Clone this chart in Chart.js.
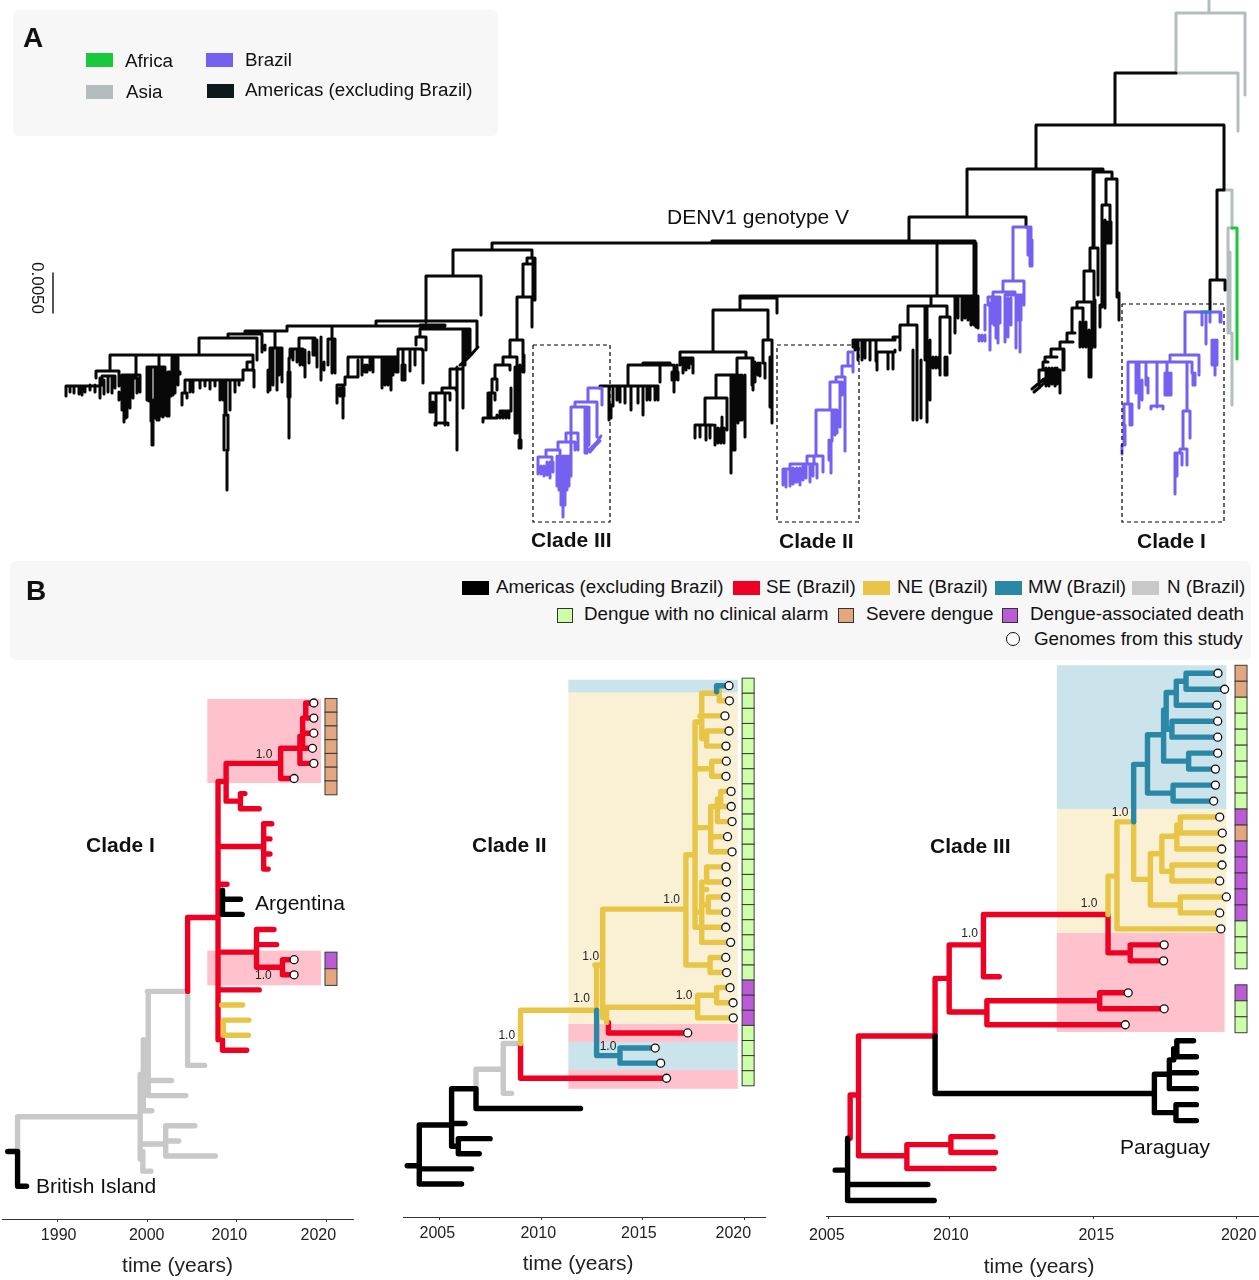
<!DOCTYPE html>
<html>
<head>
<meta charset="utf-8">
<title>DENV1 genotype V</title>
<script src="https://cdn.jsdelivr.net/npm/chart.js@4/dist/chart.umd.min.js"></script>
<style>
html, body { margin: 0; padding: 0; background: #fff; }
#page { position: relative; width: 1259px; height: 1280px; overflow: hidden; font-family: "Liberation Sans", Arial, sans-serif; color: #111; }
#page canvas { position: absolute; }
.box { position: absolute; background: #f7f7f7; border-radius: 6px; }
.t { position: absolute; white-space: nowrap; font-size: 18.8px; line-height: 22px; }
.big { font-size: 21px; }
.b { font-weight: bold; font-size: 21px; }
.p { font-weight: bold; font-size: 28px; line-height: 30px; }
.sw { position: absolute; width: 27px; height: 14px; }
.sq { position: absolute; width: 14px; height: 13px; border: 1px solid #333; }
</style>
</head>
<body>
<div id="page">
  <div class="box" style="left:13px;top:10px;width:485px;height:126px"></div>
  <div class="box" style="left:10px;top:561px;width:1241px;height:99px"></div>

  <canvas id="treeA" width="1259" height="560" style="left:0;top:0"></canvas>
  <canvas id="cladeI" width="411" height="589" style="left:-28px;top:690px"></canvas>
  <canvas id="cladeII" width="422" height="607" style="left:373px;top:670px"></canvas>
  <canvas id="cladeIII" width="492" height="620" style="left:796px;top:660px"></canvas>

  <div class="t p" style="left:23px;top:23px">A</div>
  <div class="sw" style="left:86px;top:53px;background:#19c93b"></div>
  <div class="t" style="left:125px;top:50px">Africa</div>
  <div class="sw" style="left:86px;top:85px;background:#b4bdbd"></div>
  <div class="t" style="left:126px;top:81px">Asia</div>
  <div class="sw" style="left:206px;top:53px;background:#7561f0"></div>
  <div class="t" style="left:245px;top:49px">Brazil</div>
  <div class="sw" style="left:207px;top:84px;background:#0c1a1c"></div>
  <div class="t" style="left:245px;top:79px">Americas (excluding Brazil)</div>

  <div class="t" style="left:37px;top:288px;transform:translate(-50%,-50%) rotate(90deg);font-size:17px">0.0050</div>
  <div class="t big" style="left:667px;top:206px">DENV1 genotype V</div>
  <div class="t b" style="left:531px;top:529px">Clade III</div>
  <div class="t b" style="left:779px;top:530px">Clade II</div>
  <div class="t b" style="left:1137px;top:530px">Clade I</div>

  <div class="t p" style="left:26px;top:576px">B</div>
  <div class="sw" style="left:462px;top:581px;background:#000"></div>
  <div class="t" style="left:496px;top:576px">Americas (excluding Brazil)</div>
  <div class="sw" style="left:733px;top:581px;background:#ee0022"></div>
  <div class="t" style="left:766px;top:576px">SE (Brazil)</div>
  <div class="sw" style="left:863px;top:581px;background:#e8c547"></div>
  <div class="t" style="left:897px;top:576px">NE (Brazil)</div>
  <div class="sw" style="left:995px;top:581px;background:#2a87a5"></div>
  <div class="t" style="left:1028px;top:576px">MW (Brazil)</div>
  <div class="sw" style="left:1132px;top:581px;background:#c8c8c8"></div>
  <div class="t" style="left:1167px;top:576px">N (Brazil)</div>
  <div class="sq" style="left:557px;top:608px;background:#ccffa8"></div>
  <div class="t" style="left:584px;top:603px">Dengue with no clinical alarm</div>
  <div class="sq" style="left:838px;top:608px;background:#e2a77e"></div>
  <div class="t" style="left:866px;top:603px">Severe dengue</div>
  <div class="sq" style="left:1002px;top:608px;background:#bc5bd6"></div>
  <div class="t" style="left:1030px;top:603px">Dengue-associated death</div>
  <div style="position:absolute;left:1006px;top:632px;width:12px;height:12px;border:1.3px solid #111;border-radius:50%;background:#fff"></div>
  <div class="t" style="left:1034px;top:628px">Genomes from this study</div>

  <div class="t b" style="left:86px;top:834px">Clade I</div>
  <div class="t b" style="left:472px;top:834px">Clade II</div>
  <div class="t b" style="left:930px;top:835px">Clade III</div>
  <div class="t big" style="left:255px;top:892px">Argentina</div>
  <div class="t big" style="left:36px;top:1175px">British Island</div>
  <div class="t big" style="left:1120px;top:1136px">Paraguay</div>
</div>

<script>
// Panel A: x = tip position along the tree, y = depth (39 depth units = 0.0050 subs/site)
// node = [depth, x left, depth left end, x right, depth right end]
const treeABlackNodes = [
    [243,492,250,975,296],[241,712,243,975,296],[217,909,241,1026,227],[169,967,217,1103,172],
    [125,1036,169,1224,190],[73,1115,125,1176,73],[190,1217,280,1224,190],[280,1210,311,1225,290],
    [250,453,276,532,258],[276,426,322,481,315],[321,376,326,477,347],[326,287,331,445,326],
    [325,420,326,445,326],[331,245,334,287,326],[334,228,338,262,350],[338,199,355,257,360],
    [355,110,371,253,363],[371,96,378,119,386],[376,102,385,115,388],[386,66,396,100,392],
    [375,122,378,140,392],[378,122,410,137,393],[367,147,400,165,415],[357,172,372,178,385],
    [372,168,392,180,374],[380,185,393,243,370],[370,243,380,254,387],[362,247,370,253,369],
    [393,182,405,187,398],[348,270,390,282,382],[349,290,358,303,365],[338,299,349,315,355],
    [339,328,365,335,373],[337,416,345,426,350],[329,420,337,470,355],[349,398,357,422,350],
    [357,348,377,398,372],[377,345,385,358,360],[385,337,403,343,418],[369,450,388,463,369],
    [388,442,393,456,390],[393,430,412,450,400],[423,435,425,448,425],
    [297,517,340,533,300],[264,523,297,533,258],[258,527,262,533,300],[340,510,357,523,355],
    [357,503,365,517,367],[365,495,379,510,370],[379,492,393,497,390],[393,488,410,495,400],
    [418,483,422,497,415],[411,500,418,511,388],
    [386,600,388,658,400],[365,628,386,672,365],[363,643,365,670,365],[352,680,365,746,358],
    [358,680,360,693,373],[310,713,352,768,340],[298,740,309,777,313],[296,740,298,975,296],
    [358,737,375,753,390],[375,716,398,737,375],[398,705,425,727,430],[425,695,438,713,425],
    [340,763,363,772,358],[340,853,347,895,338],[337,893,338,900,327],[352,877,370,895,350],
    [325,900,337,917,420],[306,908,325,947,317],[317,940,375,950,353],
    [172,1093,247,1112,179],[179,1106,205,1117,297],[205,1102,215,1110,240],[248,1090,271,1098,295],
    [271,1084,302,1094,300],[302,1077,308,1092,308],[308,1072,333,1083,322],[333,1067,342,1075,333],
    [342,1060,349,1073,342],[349,1051,357,1064,370],[357,1045,362,1057,357],[362,1043,370,1048,362],
    [370,1039,385,1060,393]
];
const treeABlackPaths = [
    [460,365,470,356,478,347],[464,362,472,354],[1032,389,1038,384,1044,379],[1034,392,1040,387,1046,381]
];
// drop = [x, depth top, depth bottom]
const treeABlackDrops = [
    [70,386,392],[74,386,393],[79,386,394],[82,386,395],[85,386,392],[90,385,390],[95,385,392],[100,378,398],
    [104,380,394],[108,378,392],[112,378,393],[119,392,400],[124,380,422],[126,410,418],[127,378,417],
    [130,378,408],[133,378,398],[136,355,375],[149,368,401],[151,368,421],[152,400,445],[153,400,445],
    [155,368,418],[157,368,420],[159,355,420],[161,368,416],[163,368,417],[167,390,416],[169,392,416],
    [171,372,396],[173,372,395],[175,355,393],[190,380,392],[193,380,392],[200,380,388],[205,380,386],
    [210,380,389],[215,380,386],[220,380,400],[223,380,400],[225,380,415],[226,380,415],[224,415,450],
    [228,415,450],[227,450,490],[230,380,410],[235,380,392],[239,380,385],[262,345,352],[265,345,350],
    [268,370,392],[273,348,385],[275,331,348],[277,350,390],[279,350,375],[288,372,397],[290,372,397],
    [289,358,438],[293,349,360],[297,349,362],[300,349,365],[305,350,377],[309,352,363],[313,340,355],
    [317,340,367],[321,337,380],[324,362,370],[332,326,373],[340,388,396],[342,388,396],[344,388,396],
    [362,357,375],[365,365,372],[367,365,372],[370,357,370],[373,357,372],[382,357,388],[385,357,385],
    [386,357,375],[388,357,385],[391,357,390],[393,357,375],[396,357,372],[403,349,380],[405,365,380],
    [402,365,380],[410,349,371],[415,349,365],[423,350,383],[463,329,408],[465,329,365],[467,329,355],
    [457,367,450],[436,393,425],[445,393,425],[431,402,412],[433,402,412],[488,393,418],[491,393,418],
    [532,297,327],[534,258,300],[535,258,300],[515,367,433],[517,367,433],[520,365,447],[519,440,448],
    [521,440,448],[524,355,372],[523,340,372],[503,411,418],[506,411,418],[509,411,418],
    [609,386,420],[611,405,418],[613,386,406],[617,386,400],[620,386,402],[625,386,403],[631,386,410],
    [638,386,403],[643,386,415],[647,386,400],[650,386,400],[655,386,400],[660,365,382],[672,372,380],
    [675,372,380],[678,372,380],[674,365,392],[677,365,375],[683,360,373],[686,360,370],[689,358,368],
    [692,358,364],[700,425,437],[706,425,440],[710,425,438],[715,425,445],[718,428,443],[721,428,443],
    [724,428,443],[722,417,430],[731,375,473],[733,375,450],[735,375,450],[738,375,423],[740,375,420],
    [742,375,420],[745,375,437],[752,360,385],[755,362,382],[758,363,375],[760,363,376],[765,363,378],
    [770,357,407],[772,357,423],[855,340,350],[858,340,360],[862,340,360],[865,340,358],[870,340,360],
    [876,340,361],[888,352,369],[893,352,369],[900,325,350],
    [937,243,296],[931,296,306],[913,350,420],[921,360,418],[925,306,360],[927,306,422],[930,340,400],
    [933,357,368],[936,357,368],[939,357,368],[945,357,375],[947,357,375],[955,296,333],[958,296,318],
    [962,296,320],[965,296,318],[968,296,320],[971,296,325],[974,243,325],[976,243,327],[978,296,328],
    [1094,169,247],[1117,188,297],[1119,293,320],[1102,215,307],[1105,220,308],[1107,222,243],
    [1109,222,243],[1111,222,243],[1100,305,327],[1095,300,347],[1092,308,348],[1089,330,377],
    [1090,345,377],[1091,345,377],[1080,322,347],[1086,322,347],[1083,322,347],[1063,350,370],
    [1046,368,386],[1049,368,386],[1052,368,384],[1055,368,386],[1057,368,384]
];
const treeAPurpleNodes = [
    [227,1013,281,1031,240],[281,1003,291,1024,305],[292,993,298,1015,295],[297,988,305,1000,300],
    [295,1005,310,1023,300],[312,1185,355,1220,322],[355,1170,362,1199,375],[362,1128,404,1192,373],
    [411,1183,448,1190,438],[449,1180,453,1187,465],[453,1175,494,1182,465],[404,1124,445,1131,425],
    [406,1151,409,1163,409],
    [388,588,402,602,405],[402,575,407,597,437],[407,571,433,587,453],[433,566,442,578,450],
    [442,558,450,575,450],[450,546,457,560,466],[457,538,472,552,466],
    [352,848,365,853,372],[366,842,376,853,372],[377,836,382,845,451],[382,830,408,842,395],
    [410,816,456,837,433],[456,807,463,823,472],[464,790,470,817,478],[469,783,485,795,482]
];
const treeAPurplePaths = [
    [587,452,592,447,597,442,601,436],[590,452,595,446,600,441]
];
const treeAPurpleDrops = [
    [1028,227,255],[1030,227,266],[1032,240,266],[1024,290,305],[1021,295,320],[1018,296,320],[1016,296,348],
    [1020,296,352],[1005,298,342],[1008,298,337],[1011,298,325],[985,305,330],[979,335,341],[982,335,341],
    [985,335,341],[990,303,350],[992,298,323],[994,298,325],[996,298,338],[998,298,343],[1000,298,323],
    [1202,312,325],[1206,312,344],[1210,312,322],[1221,312,322],[1215,340,375],[1212,340,365],[1214,340,365],
    [1217,340,365],[1195,373,385],[1193,373,385],[1136,362,393],[1139,362,408],[1142,380,400],[1146,362,385],
    [1148,378,393],[1157,362,407],[1167,362,395],[1165,373,395],[1169,373,395],[1171,373,395],[1187,362,411],
    [1177,453,476],[1124,425,445],[1122,445,454],[1125,425,445],[1130,404,425],[1132,404,425],
    [538,466,474],[541,466,474],[544,466,476],[547,462,475],[550,462,478],[553,462,472],[557,456,486],
    [559,456,490],[561,456,505],[563,456,517],[565,456,505],[567,456,490],[569,456,486],[571,433,476],
    [585,407,453],[587,407,450],[589,407,445],[814,456,463],
    [845,380,451],[840,382,427],[837,410,433],[835,412,435],[832,410,441],[831,440,473],[829,440,460],
    [823,456,472],[786,470,487],[790,470,486],[793,468,484],[797,468,482],[800,468,485],[803,466,480],
    [806,466,478],[810,466,482],[813,466,476]
];
const treeAGreyNodes = [[13,1176,73,1245,95],[73,1176,73,1238,131]];
const treeAGreyPaths = [
    [1209,0,1209,13],[1224,190,1232,190,1232,228,1228,228,1228,333],[1230,252,1230,333],[1232,333,1232,405]
];
const treeAGreenPaths = [[1232,228,1237,228,1237,359]];
const treeABluePaths = [[1201,312,1211,312]];
const treeALightPaths = [[53,273,53,313]]; // scale bar, 0.0050
const cladeBoxes = [
    [533,345,610,345,610,522,533,522,533,345],
    [777,345,859,345,859,522,777,522,777,345],
    [1122,304,1224,304,1224,522,1122,522,1122,304]
];

// Panel B: x = time in years, y = tip row from the top of each tree
// path = [year, row, year, row, ...]
const cladeIBlack = [
    [1984.4,29.7,1985.3,29.7],[1985.5,29.7,1985.5,32,1986.5,32],
    [2008.4,12.4,2008.4,14,2010.6,14],[2008.4,13,2010.4,13]
];
const cladeIGrey = [
    [1985.5,29.7,1985.5,27.4,1999.1,27.4],[1999.2,24.6,1999.2,30.2],[1999.5,29.7,1999.5,31,2000.4,31],
    [1999.2,29.2,2002.05,29.2],[2005.3,28,2002.05,28,2002.05,30,2007.6,30],[2002.05,29,2003.5,29],
    [1999.55,22.3,1999.55,27,2000.5,27],[2000.1,19.1,2000.1,26,2004.3,26],[2000.1,25,2002.7,25],
    [2000,19.1,2004.5,19.1,2004.5,24,2006.4,24]
];
const cladeIRed = [
    [2004.5,19.1,2004.5,14.2,2007.9,14.2],[2007.9,5.2,2007.9,22.3],[2007.9,5.2,2008.8,5.2],
    [2008.8,4,2008.8,6.5,2010.4,6.5],[2008.8,4,2014.9,4],[2016.4,5,2014.9,5,2014.9,3,2017.05,3],
    [2017.05,2.2,2017.05,4,2018.6,4],[2017.05,3,2018.45,3],[2017.35,1,2017.35,3],[2017.35,2,2018.6,2],
    [2018.6,0,2017.7,0,2017.7,1,2018.6,1],[2010.9,6,2010.4,6,2010.4,7,2012.5,7],[2007.9,9.5,2013,9.5],
    [2013.9,8,2013,8,2013,11,2013.5,11],[2013,9,2013.7,9],[2013,10,2013.7,10],[2007.9,12,2008.9,12],
    [2007.9,16.5,2012.2,16.5],[2014.15,15,2012.2,15,2012.2,17.5,2015.1,17.5],[2012.2,16,2014.45,16],
    [2016.4,17,2015.1,17,2015.1,18,2016.4,18],[2007.9,19,2012.5,19],[2008.4,22.3,2008.4,23,2011.1,23]
];
const cladeIYellow = [[2008.3,20,2010.65,20],[2011.35,21,2008.5,21,2008.5,22,2011.3,22]];
const cladeITeal = [];
const cladeITips = [
    [2018.6,0],[2018.6,1],[2018.6,2],[2018.45,3],[2018.6,4],[2016.4,5],[2016.4,17],[2016.4,18]
];
const cladeIPink = [[2006.7,-0.27,2019.4,5.3],[2006.7,16.4,2019.4,18.7]];
const cladeICream = [];
const cladeIBlue = [];
const cladeICellX = 2020.52;
const cladeICells = [
    [-0.3,0.61,"severe"],[0.61,1.52,"severe"],[1.52,2.43,"severe"],[2.43,3.34,"severe"],[3.34,4.25,"severe"],
    [4.25,5.16,"severe"],[5.16,6.08,"severe"],[16.5,17.6,"death"],[17.6,18.7,"severe"]
];
const cladeISupport = [[2013.04,3.44],[2012.96,18.08]];
const cladeITicks = [1990,2000,2010,2020];
const cladeITickNames = ["1990","2000","2010","2020"];
const cladeINamePos = [1990.09,1999.93,2009.16,2019.1];

const cladeIIBlack = [
    [2003.41,31.8,2004,31.8],[2006.08,33,2004,33,2004,29.1,2005.59,29.1],[2004,32,2006.57,32],
    [2005.59,26.7,2005.59,30.5,2005.92,30.5],[2005.59,29,2006.25,29],[2007.48,30,2005.92,30,2005.92,31,2006.95,31],
    [2005.59,26.7,2006.79,26.7,2006.79,28,2011.93,28]
];
const cladeIIGrey = [[2006.79,26.7,2006.79,25.4,2008.13,25.4],[2008.95,23.7,2008.13,23.7,2008.13,27,2008.54,27]];
const cladeIIRed = [[2008.98,23.7,2008.98,26,2016.16,26],[2013.3,22.3,2013.3,23,2017.2,23]];
const cladeIIYellow = [
    [2008.98,23.7,2008.98,21.5,2012.72,21.5],[2012.64,18.5,2012.72,18.5,2012.72,21.5],[2012.72,18.5,2013.02,18.5],
    [2013.02,22,2013.02,14.8,2017.11,14.8],[2013.21,22.3,2013.21,21.3,2017.69,21.3],
    [2019.44,22,2017.69,22,2017.69,20.5,2018.54,20.5],[2019.28,20,2018.62,20,2018.62,21,2019.43,21],
    [2017.11,11.2,2017.11,18.5,2018.3,18.5],[2019.07,18,2018.3,18,2018.3,19,2019.11,19],[2017.11,11.2,2017.56,11.2],
    [2017.56,2.4,2017.56,16,2019.07,16],[2017.56,2.4,2017.8,2.4],[2017.89,0.5,2017.89,3.5,2018.13,3.5],
    [2017.89,0.5,2018.75,0.5],[2018.75,0.3,2018.75,1,2019.25,1],[2017.8,2,2019.03,2],
    [2019.23,3,2018.13,3,2018.13,4,2019.08,4],[2017.56,5.5,2018.38,5.5],[2019.1,5,2018.38,5,2018.38,6,2019.08,6],
    [2017.56,9.4,2018.33,9.4],[2018.33,8,2018.33,11,2019.38,11],[2018.33,10,2019.16,10],[2018.33,8,2018.66,8],
    [2019.36,9,2018.66,9,2018.66,7.5,2018.82,7.5],[2019.33,7,2018.82,7,2018.82,8,2019.33,8],
    [2017.89,13,2017.89,17,2019.31,17],[2017.56,15,2017.89,15],[2017.89,13.5,2018.13,13.5],
    [2019.08,12,2018.13,12,2018.13,13,2019.11,13],[2017.89,14.5,2018.21,14.5],[2019.07,14,2018.21,14,2018.21,15,2019.08,15]
];
const cladeIITeal = [
    [2018.62,0.4,2018.62,0,2019.23,0],[2012.72,21.5,2012.72,24.5,2013.87,24.5],[2015.6,24,2013.87,24,2013.87,25,2015.87,25]
];
const cladeIITips = [
    [2019.23,0],[2019.25,1],[2019.03,2],[2019.23,3],[2019.08,4],[2019.1,5],[2019.08,6],[2019.33,7],[2019.34,8],
    [2019.38,9],[2019.16,10],[2019.38,11],[2019.08,12],[2019.11,13],[2019.07,14],[2019.08,15],[2019.07,16],
    [2019.31,17],[2019.07,18],[2019.11,19],[2019.28,20],[2019.43,21],[2019.44,22],[2017.2,23],[2015.6,24],
    [2015.87,25],[2016.16,26]
];
const cladeIIPink = [[2011.33,22.4,2019.66,23.6],[2011.33,25.45,2019.66,26.7]];
const cladeIICream = [[2011.33,0.45,2019.66,22.4]];
const cladeIIBlue = [[2011.33,-0.4,2019.66,0.45],[2011.33,23.6,2019.66,25.45]];
const cladeIICellX = 2020.17;
const cladeIICells = [
    [-0.5,0.5,"mild"],[0.5,1.5,"mild"],[1.5,2.5,"mild"],[2.5,3.5,"mild"],[3.5,4.5,"mild"],[4.5,5.5,"mild"],
    [5.5,6.5,"mild"],[6.5,7.5,"mild"],[7.5,8.5,"mild"],[8.5,9.5,"mild"],[9.5,10.5,"mild"],[10.5,11.5,"mild"],
    [11.5,12.5,"mild"],[12.5,13.5,"mild"],[13.5,14.5,"mild"],[14.5,15.5,"mild"],[15.5,16.5,"mild"],[16.5,17.5,"mild"],
    [17.5,18.5,"mild"],[18.5,19.5,"mild"],[19.5,20.5,"death"],[20.5,21.5,"death"],[21.5,22.5,"death"],
    [22.5,23.5,"mild"],[23.5,24.5,"mild"],[24.5,25.5,"mild"],[25.5,26.5,"mild"]
];
const cladeIISupport = [[2008.3,23.17],[2012.43,17.93],[2011.98,20.76],[2016.41,14.2],[2017.02,20.5],[2013.28,23.9]];
const cladeIITicks = [2005,2010,2015,2020];
const cladeIITickNames = ["2005","2010","2015","2020"];
const cladeIINamePos = [2004.89,2009.85,2014.8,2019.44];

const cladeIIIBlack = [
    [2006.04,31.1,2006.44,31.1],[2006.47,29.1,2006.47,33,2009.48,33],[2006.47,32,2009.26,32],
    [2009.51,22.7,2009.51,26.3,2017.13,26.3],[2017.13,25.1,2017.13,27.5,2017.88,27.5],
    [2018.59,27,2017.88,27,2017.88,28,2018.59,28],[2017.13,25.1,2017.65,25.1],[2017.65,24.2,2017.65,26,2018.59,26],
    [2017.65,25,2018.59,25],[2017.65,24.2,2017.8,24.2],[2017.8,23.5,2017.8,24,2018.59,24],
    [2018.49,23,2017.91,23,2017.91,24]
];
const cladeIIIGrey = [];
const cladeIIIRed = [
    [2006.56,29.1,2006.56,26.4,2006.85,26.4],[2006.85,22.7,2006.85,30.2,2008.53,30.2],[2010.06,29.5,2008.53,29.5,2008.53,31,2011.56,31],
    [2011.52,29,2010.06,29,2010.06,30,2011.61,30],[2006.85,22.7,2009.51,22.7,2009.51,19.1,2009.98,19.1],
    [2010,17,2010,21.2,2011.31,21.2],[2015.23,20.5,2011.31,20.5,2011.31,22,2016.12,22],
    [2016.22,20,2015.23,20,2015.23,21,2017.47,21],[2010,17,2011.19,17],[2011.19,15.1,2011.19,19,2011.74,19],
    [2011.19,15.1,2015.52,15.1,2015.52,17.5,2016.29,17.5],[2017.47,17,2016.29,17,2016.29,18,2017.45,18]
];
const cladeIIIYellow = [
    [2015.52,15.1,2015.52,12.7,2015.83,12.7],[2015.83,9.3,2015.83,16,2019.44,16],
    [2015.83,9.3,2016.41,9.3,2016.41,12.9,2016.96,12.9],[2016.99,11.3,2016.99,14.5,2017.99,14.5],
    [2019.63,14,2018.03,14,2018.03,15,2019.4,15],[2016.99,11.3,2017.39,11.3],[2017.39,10.2,2017.39,12.4,2017.74,12.4],
    [2019.48,12,2017.74,12,2017.74,13,2019.4,13],[2017.39,10.2,2017.91,10.2],[2017.91,9.5,2017.91,11,2019.47,11],
    [2017.91,9.5,2018.03,9.5],[2019.4,9,2018.03,9,2018.03,10,2019.49,10]
];
const cladeIIITeal = [
    [2016.41,9.3,2016.41,5.7,2016.87,5.7],[2016.89,3.85,2016.89,7.5,2017.74,7.5],[2019.25,7,2017.78,7,2017.78,8,2019.19,8],
    [2016.89,3.85,2017.45,3.85],[2017.45,2.3,2017.45,5.5,2018.32,5.5],[2019.33,5,2018.32,5,2018.32,6,2019.25,6],
    [2017.45,3.5,2017.74,3.5],[2019.33,3,2017.74,3,2017.74,4,2019.33,4],[2017.54,1.2,2017.54,3.5],[2017.54,1.2,2017.89,1.2],
    [2017.89,0.5,2017.89,2,2019.3,2],[2017.89,0.5,2018.23,0.5],[2019.34,0,2018.23,0,2018.23,1,2019.57,1]
];
const cladeIIITips = [
    [2019.34,0],[2019.57,1],[2019.3,2],[2019.33,3],[2019.33,4],[2019.33,5],[2019.25,6],[2019.25,7],[2019.19,8],
    [2019.4,9],[2019.49,10],[2019.47,11],[2019.48,12],[2019.4,13],[2019.63,14],[2019.4,15],[2019.44,16],
    [2017.47,17],[2017.45,18],[2016.22,20],[2017.47,21],[2016.12,22]
];
const cladeIIIPink = [[2013.74,16.25,2019.57,22.45]];
const cladeIIICream = [[2013.74,8.49,2019.63,16.25]];
const cladeIIIBlue = [[2013.74,-0.5,2019.63,8.49]];
const cladeIIICellX = 2020.14;
const cladeIIICells = [
    [-0.5,0.5,"severe"],[0.5,1.5,"severe"],[1.5,2.5,"mild"],[2.5,3.5,"mild"],[3.5,4.5,"mild"],[4.5,5.5,"mild"],
    [5.5,6.5,"mild"],[6.5,7.5,"mild"],[7.5,8.5,"mild"],[8.5,9.5,"death"],[9.5,10.5,"severe"],[10.5,11.5,"death"],
    [11.5,12.5,"death"],[12.5,13.5,"death"],[13.5,14.5,"death"],[14.5,15.5,"death"],[15.5,16.5,"mild"],
    [16.5,17.5,"mild"],[17.5,18.5,"mild"],[19.5,20.5,"death"],[20.5,21.5,"mild"],[21.5,22.5,"mild"]
];
const cladeIIISupport = [[2015.94,8.74],[2014.86,14.44],[2010.71,16.27]];
const cladeIIITicks = [2005.8,2010,2015,2020];
const cladeIIITickNames = ["2005","2010","2015","2020"];
const cladeIIINamePos = [2005.75,2010.06,2015.11,2020.06];

const RED = "#ee0022", YELLOW = "#e8c547", TEAL = "#2a87a5", GREY = "#c8c8c8", BLACK = "#000000";
const CELL_COLOURS = { mild: "#ccffa8", severe: "#e2a77e", death: "#bc5bd6" };
const BREAK = { x: NaN, y: NaN };

function pathsToPoints(paths) {
    const pts = [];
    for (const p of paths) {
        for (let i = 0; i < p.length; i += 2) pts.push({ x: p[i], y: p[i + 1] });
        pts.push(BREAK);
    }
    return pts;
}
function nodesToPoints(nodes) {
    return pathsToPoints(nodes.map(n => [n[1], n[2], n[1], n[0], n[3], n[0], n[3], n[4]]));
}
function dropsToPoints(drops) {
    return pathsToPoints(drops.map(d => [d[0], d[1], d[0], d[2]]));
}
function lineSet(points, colour, width, extra) {
    return Object.assign({
        data: points, showLine: true, borderColor: colour, borderWidth: width, pointRadius: 0,
        tension: 0, spanGaps: false, clip: false, borderCapStyle: "round", borderJoinStyle: "round"
    }, extra || {});
}

// tree A
new Chart(document.getElementById("treeA"), {
    type: "scatter",
    data: {
        datasets: [
            lineSet(pathsToPoints(cladeBoxes), "#000", 1.2, { borderDash: [4, 3], borderCapStyle: "butt" }),
            lineSet(pathsToPoints(treeALightPaths), "#111", 1.4),
            lineSet(pathsToPoints(treeABluePaths), "#3d78d0", 3),
            lineSet(pathsToPoints(treeAGreenPaths), "#19c93b", 3),
            lineSet([...nodesToPoints(treeAPurpleNodes), ...pathsToPoints(treeAPurplePaths), ...dropsToPoints(treeAPurpleDrops)], "#7561f0", 3),
            lineSet([...nodesToPoints(treeABlackNodes), ...pathsToPoints(treeABlackPaths), ...dropsToPoints(treeABlackDrops)], "#080808", 3),
            lineSet([...nodesToPoints(treeAGreyNodes), ...pathsToPoints(treeAGreyPaths)], "#b4bdbd", 3)
        ]
    },
    options: {
        responsive: false, animation: false, devicePixelRatio: 1,
        layout: { padding: 0, autoPadding: false },
        plugins: { legend: { display: false }, tooltip: { enabled: false } },
        scales: {
            x: { type: "linear", min: 0, max: 1259, display: false },
            y: { type: "linear", min: 0, max: 560, reverse: true, display: false }
        }
    }
});

// shaded regions and severity cells go under the branches, support values on top
const treeExtras = {
    id: "treeExtras",
    beforeDatasetsDraw(chart, args, o) {
        const c = chart.ctx, sx = chart.scales.x, sy = chart.scales.y;
        const fillAll = (rects, colour) => {
            c.fillStyle = colour;
            for (const r of rects) {
                const x = sx.getPixelForValue(r[0]), y = sy.getPixelForValue(r[1]);
                c.fillRect(x, y, sx.getPixelForValue(r[2]) - x, sy.getPixelForValue(r[3]) - y);
            }
        };
        fillAll(o.cream, "#faf1d4");
        fillAll(o.pink, "#ffc2cc");
        fillAll(o.blue, "#cbe3ea");
        const cx = sx.getPixelForValue(o.cellX);
        c.lineWidth = 1;
        c.strokeStyle = "#3a3a3a";
        for (const cell of o.cells) {
            const y0 = sy.getPixelForValue(cell[0]), y1 = sy.getPixelForValue(cell[1]);
            c.fillStyle = CELL_COLOURS[cell[2]];
            c.fillRect(cx - 6, y0, 12, y1 - y0);
            c.strokeRect(cx - 6, y0, 12, y1 - y0);
        }
    },
    afterDatasetsDraw(chart, args, o) {
        const c = chart.ctx;
        c.fillStyle = "#222";
        c.font = "12px 'Liberation Sans'";
        c.textAlign = "center";
        c.textBaseline = "middle";
        for (const s of o.support) {
            c.fillText("1.0", chart.scales.x.getPixelForValue(s[0]), chart.scales.y.getPixelForValue(s[1]));
        }
    }
};

function cladeChart(id, t) {
    new Chart(document.getElementById(id), {
        type: "scatter",
        plugins: [treeExtras],
        data: {
            datasets: [
                { data: t.tips.map(p => ({ x: p[0], y: p[1] })), pointRadius: 4, pointBorderWidth: 1.3, pointBackgroundColor: "#fff", pointBorderColor: "#111", clip: false },
                lineSet(pathsToPoints(t.teal), TEAL, 5.4),
                lineSet(pathsToPoints(t.yellow), YELLOW, 5.4),
                lineSet(pathsToPoints(t.black), BLACK, 5.4),
                lineSet(pathsToPoints(t.red), RED, 5.4),
                lineSet(pathsToPoints(t.grey), GREY, 5.4)
            ]
        },
        options: {
            responsive: false, animation: false, devicePixelRatio: 1,
            layout: { autoPadding: false, padding: { left: 30, right: 30, top: 0, bottom: 0 } },
            plugins: {
                legend: { display: false }, tooltip: { enabled: false },
                treeExtras: { pink: t.pink, cream: t.cream, blue: t.blue, cells: t.cells, cellX: t.cellX, support: t.support }
            },
            scales: {
                y: { type: "linear", min: t.rows[0], max: t.rows[1], reverse: true, display: false },
                x: {
                    type: "linear", position: "bottom", weight: 0, min: t.years[0], max: t.years[1],
                    border: { display: true, color: "#333", width: 1 },
                    grid: { display: true, drawOnChartArea: false, drawTicks: true, tickLength: 3, color: "#333" },
                    ticks: { display: false },
                    afterBuildTicks: s => { s.ticks = t.ticks.map(v => ({ value: v })); },
                    afterFit: s => { s.height = 4; }
                },
                xNames: {
                    axis: "x", type: "linear", position: "bottom", weight: 1, min: t.years[0], max: t.years[1],
                    border: { display: false }, grid: { display: false, drawTicks: false },
                    ticks: {
                        autoSkip: false, maxRotation: 0, padding: t.namePad, color: "#222",
                        font: { family: "Liberation Sans", size: 16 },
                        callback: (v, i) => t.names[i]
                    },
                    title: {
                        // trailing spaces nudge the centred title left, as in the figure
                        display: true, text: t.title, color: "#222", padding: { top: 6, bottom: 0 },
                        font: { family: "Liberation Sans", size: 21 }
                    },
                    afterBuildTicks: s => { s.ticks = t.namePos.map(v => ({ value: v })); },
                    afterFit: s => { s.height = t.below; }
                }
            }
        }
    });
}

cladeChart("cladeI", {
    tips: cladeITips, teal: cladeITeal, yellow: cladeIYellow, black: cladeIBlack, red: cladeIRed, grey: cladeIGrey,
    pink: cladeIPink, cream: cladeICream, blue: cladeIBlue, cells: cladeICells, cellX: cladeICellX, support: cladeISupport,
    ticks: cladeITicks, names: cladeITickNames, namePos: cladeINamePos, namePad: 3, title: "time (years)",
    years: [1983.76, 2022.98], rows: [-0.86, 34.17], below: 56
});
cladeChart("cladeII", {
    tips: cladeIITips, teal: cladeIITeal, yellow: cladeIIYellow, black: cladeIIBlack, red: cladeIIRed, grey: cladeIIGrey,
    pink: cladeIIPink, cream: cladeIICream, blue: cladeIIBlue, cells: cladeIICells, cellX: cladeIICellX, support: cladeIISupport,
    ticks: cladeIITicks, names: cladeIITickNames, namePos: cladeIINamePos, namePad: 3, title: "time (years)  ",
    years: [2003.2, 2021], rows: [-1.04, 35.19], below: 56
});
cladeChart("cladeIII", {
    tips: cladeIIITips, teal: cladeIIITeal, yellow: cladeIIIYellow, black: cladeIIIBlack, red: cladeIIIRed, grey: cladeIIIGrey,
    pink: cladeIIIPink, cream: cladeIIICream, blue: cladeIIIBlue, cells: cladeIIICells, cellX: cladeIIICellX, support: cladeIIISupport,
    ticks: cladeIIITicks, names: cladeIIITickNames, namePos: cladeIIINamePos, namePad: 6, title: "time (years) ",
    years: [2005.72, 2020.73], rows: [-0.83, 33.97], below: 60
});
</script>
</body>
</html>
